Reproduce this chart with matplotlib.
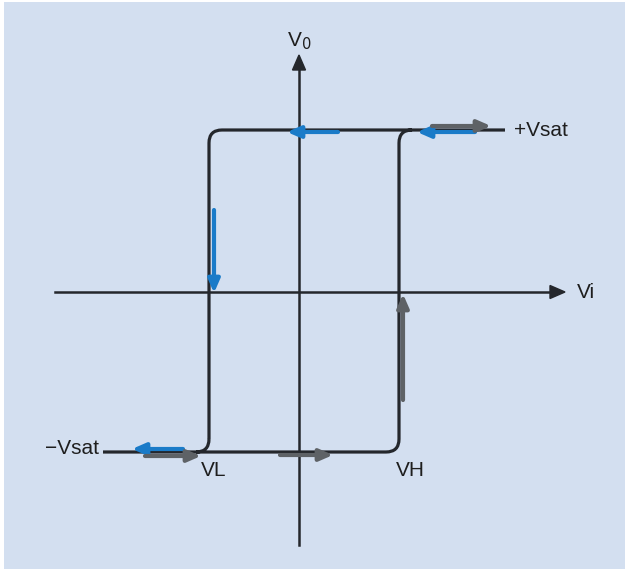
import matplotlib
matplotlib.use("Agg")
import matplotlib.pyplot as plt
from matplotlib.patches import Rectangle, FancyArrow
from matplotlib.path import Path
from matplotlib.patches import PathPatch

plt.rcParams['font.family'] = ['Liberation Sans', 'DejaVu Sans']

# Schmitt trigger transfer characteristic (normalised units)
v_low = -0.90      # lower threshold VL
v_high = 1.00      # upper threshold VH
v_sat_pos = 1.62   # +Vsat
v_sat_neg = -1.60  # -Vsat
vi_min, vi_max = -1.96, 2.06   # extent of the drawn saturation lines

# axis extents
x_axis = (-2.44, 2.66)
y_axis = (-2.53, 2.37)

labels = {"vi": "Vi", "vo": "V$_0$", "pos": "+Vsat", "neg": "\u2212Vsat",
          "vl": "VL", "vh": "VH"}

W, H = 625, 571
fig = plt.figure(figsize=(W / 100, H / 100), dpi=100)
ax = fig.add_axes([0, 0, 1, 1])
ax.set_xlim(-2.99, 3.26)
ax.set_ylim(-2.79, 2.92)
ax.axis("off")

bg = "#d3dff0"
line_c = "#24272c"
blue = "#1a7bc8"
gray = "#5e6266"

ax.add_patch(Rectangle((-2.95, -2.77), 6.25, 5.67, facecolor=bg, edgecolor="none", zorder=0))

# coordinate axes
ax.plot([x_axis[0], x_axis[1] - 0.12], [0, 0], color=line_c, lw=1.8, zorder=2)
ax.add_patch(FancyArrow(x_axis[1] - 0.15, 0, 0.15, 0, width=0.0, head_width=0.13,
                        head_length=0.15, length_includes_head=True,
                        color=line_c, zorder=2))
ax.plot([0, 0], [y_axis[0], y_axis[1] - 0.12], color=line_c, lw=1.8, zorder=2)
ax.add_patch(FancyArrow(0, y_axis[1] - 0.15, 0, 0.15, width=0.0, head_width=0.13,
                        head_length=0.15, length_includes_head=True,
                        color=line_c, zorder=2))

# hysteresis loop with rounded corners
r = 0.13
def loop_path():
    verts, codes = [], []
    # left vertical rounded into the top line
    verts += [(v_low, v_sat_neg + r), (v_low, v_sat_pos - r)]
    codes += [Path.MOVETO, Path.LINETO]
    verts += [(v_low, v_sat_pos), (v_low + r, v_sat_pos)]
    codes += [Path.CURVE3, Path.CURVE3]
    verts += [(vi_max, v_sat_pos)]
    codes += [Path.LINETO]
    # bottom end of left vertical rounded into the bottom line
    verts += [(v_low, v_sat_neg + r), (v_low, v_sat_neg), (v_low - r, v_sat_neg)]
    codes += [Path.MOVETO, Path.CURVE3, Path.CURVE3]
    verts += [(vi_min, v_sat_neg)]
    codes += [Path.LINETO]
    # right vertical
    verts += [(v_high + r, v_sat_pos), (v_high, v_sat_pos), (v_high, v_sat_pos - r)]
    codes += [Path.MOVETO, Path.CURVE3, Path.CURVE3]
    verts += [(v_high, v_sat_neg + r), (v_high, v_sat_neg), (v_high - r, v_sat_neg)]
    codes += [Path.LINETO, Path.CURVE3, Path.CURVE3]
    verts += [(v_low - r, v_sat_neg)]
    codes += [Path.LINETO]
    return Path(verts, codes)

ax.add_patch(PathPatch(loop_path(), facecolor="none", edgecolor=line_c, lw=2.3,
                       capstyle="butt", zorder=3))

def arrow(x0, y0, x1, y1, color):
    ax.annotate("", xy=(x1, y1), xytext=(x0, y0),
                arrowprops=dict(arrowstyle="-|>,head_length=0.8,head_width=0.35",
                                color=color, lw=3.0, shrinkA=0, shrinkB=0),
                zorder=4)

# direction arrows along the loop
arrow(0.39, v_sat_pos - 0.02, -0.12, v_sat_pos - 0.02, blue)
arrow(1.76, v_sat_pos - 0.02, 1.18, v_sat_pos - 0.02, blue)
arrow(1.33, v_sat_pos + 0.04, 1.92, v_sat_pos + 0.04, gray)
arrow(v_low + 0.05, 0.82, v_low + 0.05, -0.01, blue)
arrow(v_high + 0.04, -1.08, v_high + 0.04, -0.02, gray)
arrow(-1.16, v_sat_neg + 0.03, -1.67, v_sat_neg + 0.03, blue)
arrow(-1.54, v_sat_neg - 0.04, -0.98, v_sat_neg - 0.04, gray)
arrow(-0.19, v_sat_neg - 0.03, 0.34, v_sat_neg - 0.03, gray)

fs = 15
tc = "#1e1e1e"
ax.text(0, 2.40, labels["vo"], ha="center", va="bottom", fontsize=fs, color=tc)
ax.text(2.78, 0, labels["vi"], ha="left", va="center", fontsize=fs, color=tc)
ax.text(2.15, v_sat_pos, labels["pos"], ha="left", va="center", fontsize=fs, color=tc)
ax.text(-2.00, v_sat_neg + 0.03, labels["neg"], ha="right", va="center", fontsize=fs, color=tc)
ax.text(-0.85, v_sat_neg - 0.18, labels["vl"], ha="center", va="center", fontsize=fs, color=tc)
ax.text(1.11, v_sat_neg - 0.18, labels["vh"], ha="center", va="center", fontsize=fs, color=tc)

fig.savefig("out.png", dpi=100, facecolor="white")
